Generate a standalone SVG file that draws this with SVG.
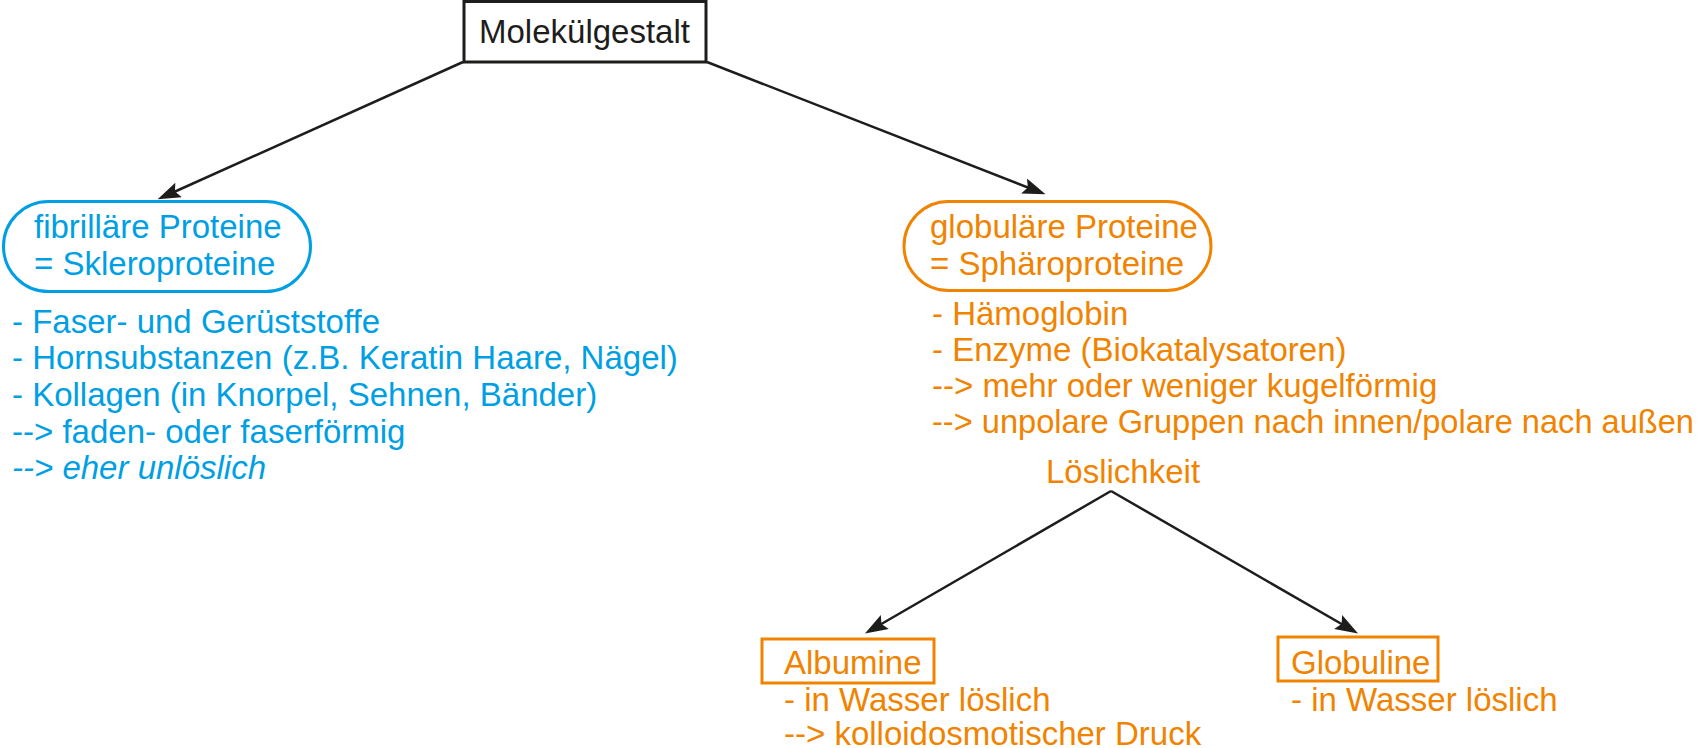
<svg xmlns="http://www.w3.org/2000/svg" width="1700" height="748" viewBox="0 0 1700 748">
<style>
text{font-family:"Liberation Sans",Arial,Helvetica,sans-serif;font-size:33px}
.k{fill:#1d1d1b}
.b{fill:#009fe3}
.o{fill:#f08300}
.conn{stroke:#1d1d1b;stroke-width:2.5;fill:none;marker-end:url(#ah)}
</style>
<defs>
<marker id="ah" markerUnits="userSpaceOnUse" markerWidth="24" markerHeight="18" refX="16" refY="8" orient="auto">
<path d="M0,0 L23,8 L0,16 L4,8 z" fill="#1d1d1b"/>
</marker>
</defs>
<rect width="1700" height="748" fill="#ffffff"/>
<g id="connectors">
<line class="conn" x1="463" y1="62" x2="164" y2="196.5"/>
<line class="conn" x1="707" y1="62" x2="1039" y2="191.8"/>
<line class="conn" x1="1111" y1="491" x2="871" y2="630"/>
<line class="conn" x1="1111" y1="491" x2="1352" y2="630"/>
</g>
<g id="n-molekuelgestalt">
<rect x="464" y="1.5" width="242" height="60.5" fill="#fff" stroke="#1d1d1b" stroke-width="3"/>
<text class="k" x="479" y="43">Molekülgestalt</text>
</g>
<g id="n-fibrillaer">
<rect x="3.5" y="201.5" width="307" height="90" rx="45" fill="#fff" stroke="#009fe3" stroke-width="3"/>
<text class="b" x="34" y="237.5">fibrilläre Proteine</text>
<text class="b" x="34" y="274.5">= Skleroproteine</text>
</g>
<g id="t-fibrillaer-list">
<text class="b" x="12" y="332.5">- Faser- und Gerüststoffe</text>
<text class="b" x="12" y="369.2">- Hornsubstanzen (z.B. Keratin Haare, Nägel)</text>
<text class="b" x="12" y="405.9">- Kollagen (in Knorpel, Sehnen, Bänder)</text>
<text class="b" x="12" y="442.6">--&gt; faden- oder faserförmig</text>
<text class="b" x="12" y="479.3" font-style="italic">--&gt; eher unlöslich</text>
</g>
<g id="n-globulaer">
<rect x="904" y="201.5" width="307" height="89" rx="44.5" fill="#fff" stroke="#f08300" stroke-width="3"/>
<text class="o" x="930" y="237.5">globuläre Proteine</text>
<text class="o" x="930" y="274.5">= Sphäroproteine</text>
</g>
<g id="t-globulaer-list">
<text class="o" x="932" y="324.5">- Hämoglobin</text>
<text class="o" x="932" y="360.5">- Enzyme (Biokatalysatoren)</text>
<text class="o" x="932" y="396.5">--&gt; mehr oder weniger kugelförmig</text>
<text class="o" x="932" y="432.5" textLength="762" lengthAdjust="spacingAndGlyphs">--&gt; unpolare Gruppen nach innen/polare nach außen</text>
</g>
<g id="n-loeslichkeit">
<text class="o" x="1046" y="482.5">Löslichkeit</text>
</g>
<g id="n-albumine">
<rect x="762" y="639" width="172" height="44" fill="#fff" stroke="#f08300" stroke-width="3"/>
<text class="o" x="784" y="674">Albumine</text>
<text class="o" x="784" y="710.5">- in Wasser löslich</text>
<text class="o" x="784" y="745">--&gt; kolloidosmotischer Druck</text>
</g>
<g id="n-globuline">
<rect x="1278" y="637" width="160" height="44" fill="#fff" stroke="#f08300" stroke-width="3"/>
<text class="o" x="1291" y="674">Globuline</text>
<text class="o" x="1291" y="710.5">- in Wasser löslich</text>
</g>
</svg>
